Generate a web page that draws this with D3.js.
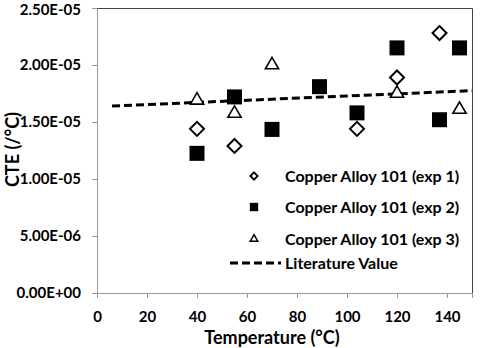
<!DOCTYPE html>
<meta charset="utf-8">
<script src="https://d3js.org/d3.v7.min.js"></script>
<style>
body { margin: 0; background: white; }
text { font-family: Lato, "Open Sans", sans-serif; font-weight: bold; fill: #000; }
</style>
<div id="my_dataviz"></div>
<script>

// data (temperature in degC, CTE in 1/degC)
var exp1 = [[40, 1.44e-5], [55, 1.29e-5], [104, 1.44e-5], [120, 1.89e-5], [137, 2.28e-5]];
var exp2 = [[40, 1.225e-5], [55, 1.72e-5], [70, 1.435e-5], [89, 1.81e-5], [104, 1.58e-5], [120, 2.15e-5], [137, 1.52e-5], [145, 2.15e-5]];
var exp3 = [[40, 1.69e-5], [55, 1.575e-5], [70, 2.0e-5], [120, 1.75e-5], [145, 1.61e-5]];
var literature = [[6, 1.64e-5], [150, 1.775e-5]];

var xTicks = [0, 20, 40, 60, 80, 100, 120, 140];
var yTicks = [0, 5e-6, 1e-5, 1.5e-5, 2e-5, 2.5e-5];
var legendNames = ["Copper Alloy 101 (exp 1)", "Copper Alloy 101 (exp 2)", "Copper Alloy 101 (exp 3)", "Literature Value"];

var margin = {top: 8, right: 8, bottom: 55, left: 97},
    width = 480 - margin.left - margin.right,
    height = 348 - margin.top - margin.bottom;

var svg = d3.select("#my_dataviz")
  .append("svg")
    .attr("width", 480)
    .attr("height", 348)
  .append("g")
    .attr("transform", "translate(" + margin.left + "," + margin.top + ")");

var x = d3.scaleLinear().domain([0, 150]).range([0, width]);
var y = d3.scaleLinear().domain([0, 2.5e-5]).range([height, 0]);

// frame (top and right)
svg.append("path")
  .attr("d", "M0,0.5H" + (width + 0.5) + "V" + height)
  .attr("fill", "none")
  .attr("stroke", "#444")
  .attr("stroke-width", 1);

// X axis
var xAxis = svg.append("g")
  .attr("transform", "translate(0," + height + ")")
  .call(d3.axisBottom(x).tickValues(xTicks).tickSize(5).tickPadding(13));
xAxis.selectAll("text").style("font-size", "15px");

// Y axis
var yAxis = svg.append("g")
  .call(d3.axisLeft(y).tickValues(yTicks).tickSize(5).tickPadding(11)
    .tickFormat(function(d) { return d.toExponential(2).toUpperCase().replace(/E([+-])(\d)$/, "E$10$2"); }));
yAxis.selectAll("text").style("font-size", "15px");
// keep the top label inside the picture
yAxis.selectAll(".tick text").filter(function(d) { return d === 2.5e-5; }).attr("dy", "0.45em");

svg.selectAll(".domain, .tick line").attr("stroke", "#999");

// axis titles
svg.append("text")
  .attr("x", 175)
  .attr("y", height + 51)
  .attr("text-anchor", "middle")
  .style("font-size", "18px")
  .text("Temperature (°C)");

svg.append("text")
  .attr("transform", "translate(" + (-margin.left + 19) + "," + (height / 2 - 1) + ") rotate(-90)")
  .attr("text-anchor", "middle")
  .style("font-size", "18px")
  .text("CTE (/°C)");

// literature line
var line = d3.line()
  .x(function(d) { return x(d[0]); })
  .y(function(d) { return y(d[1]); });

svg.append("path")
  .datum(literature)
  .attr("d", line)
  .attr("fill", "none")
  .attr("stroke", "#000")
  .attr("stroke-width", 3)
  .attr("stroke-dasharray", "8,4");

var diamond = d3.symbol().type(d3.symbolDiamond2).size(125);
var square = d3.symbol().type(d3.symbolSquare).size(225);
var triangle = d3.symbol().type(d3.symbolTriangle2).size(125);

svg.append("g").selectAll("path")
  .data(exp1).enter().append("path")
    .attr("d", diamond)
    .attr("transform", function(d) { return "translate(" + x(d[0]) + "," + y(d[1]) + ")"; })
    .attr("fill", "white").attr("stroke", "#000").attr("stroke-width", 2);

svg.append("g").selectAll("path")
  .data(exp2).enter().append("path")
    .attr("d", square)
    .attr("transform", function(d) { return "translate(" + x(d[0]) + "," + y(d[1]) + ")"; })
    .attr("fill", "#000");

svg.append("g").selectAll("path")
  .data(exp3).enter().append("path")
    .attr("d", triangle)
    .attr("transform", function(d) { return "translate(" + x(d[0]) + "," + y(d[1]) + ")"; })
    .attr("fill", "white").attr("stroke", "#000").attr("stroke-width", 1.6);

// legend
var legend = svg.append("g").attr("transform", "translate(" + (254 - margin.left) + "," + (176 - margin.top) + ")");
var rowY = [0, 31, 63, 87];

legend.append("path").attr("d", d3.symbol().type(d3.symbolDiamond2).size(34))
  .attr("transform", "translate(0," + rowY[0] + ")")
  .attr("fill", "white").attr("stroke", "#000").attr("stroke-width", 1.8);
legend.append("path").attr("d", d3.symbol().type(d3.symbolSquare).size(70))
  .attr("transform", "translate(0," + rowY[1] + ")")
  .attr("fill", "#000");
legend.append("path").attr("d", d3.symbol().type(d3.symbolTriangle2).size(40))
  .attr("transform", "translate(0," + rowY[2] + ")")
  .attr("fill", "white").attr("stroke", "#000").attr("stroke-width", 1.5);
legend.append("line")
  .attr("x1", -24).attr("x2", 27).attr("y1", rowY[3]).attr("y2", rowY[3])
  .attr("stroke", "#000").attr("stroke-width", 3).attr("stroke-dasharray", "8,4");

legend.selectAll("text.lab")
  .data(legendNames).enter().append("text")
    .attr("class", "lab")
    .attr("x", 31)
    .attr("y", function(d, i) { return rowY[i]; })
    .attr("dy", "0.35em")
    .style("font-size", "16px")
    .text(function(d) { return d; });

</script>
